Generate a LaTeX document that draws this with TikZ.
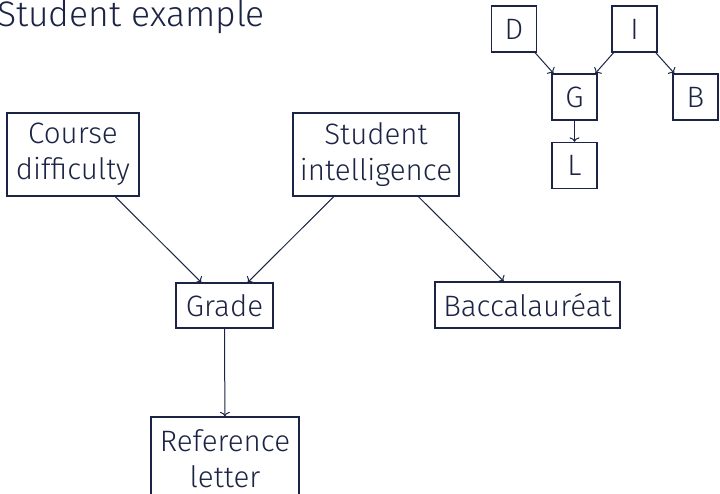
\documentclass[tikz,border=0pt]{standalone}
\usepackage{fontspec}
\setmainfont{Fira Sans Light}
\usetikzlibrary{arrows.meta}
\definecolor{ink}{HTML}{1B2444}
\begin{document}
\begin{tikzpicture}[x=1pt,y=-1pt,
  box/.style={draw=ink, line width=1.3pt, text=ink, inner sep=0pt, align=center,
    font=\fontsize{29.5}{36}\selectfont},
  small/.style={box, minimum width=45pt, minimum height=46pt},
  arr/.style={draw=ink, line width=1pt, -{To[length=4.5pt,width=10pt]}}]
\useasboundingbox (0,0) rectangle (720,494);
\node[anchor=base west, text=ink, inner sep=0pt, font=\fontsize{35.5}{40}\selectfont] (title) at (-3,27) {Student example};
% large graph
\node[box, minimum width=132pt, minimum height=83pt] (cd) at (73,154.5) {Course\\difficulty};
\node[box, minimum width=166pt, minimum height=83pt] (si) at (376,154.5) {Student\\intelligence};
\node[box, minimum width=97pt, minimum height=45pt] (gr) at (224.5,305.5) {Grade};
\node[box, minimum width=185pt, minimum height=46pt] (ba) at (527.5,305) {Baccalauréat};
\node[box, minimum width=148pt, minimum height=83pt] (rl) at (225,458.5) {Reference\\letter};
\draw[arr] (cd) -- (gr);
\draw[arr] (si) -- (gr);
\draw[arr] (si) -- (ba);
\draw[arr] (gr) -- (rl);
% small graph
\node[small] (D) at (514,29) {D};
\node[small] (I) at (634.5,29) {I};
\node[small] (G) at (574.5,97) {G};
\node[small] (B) at (695.5,97) {B};
\node[small] (L) at (574.5,165.5) {L};
\draw[arr] (D) -- (G);
\draw[arr] (I) -- (G);
\draw[arr] (I) -- (B);
\draw[arr] (G) -- (L);
\end{tikzpicture}
\end{document}
